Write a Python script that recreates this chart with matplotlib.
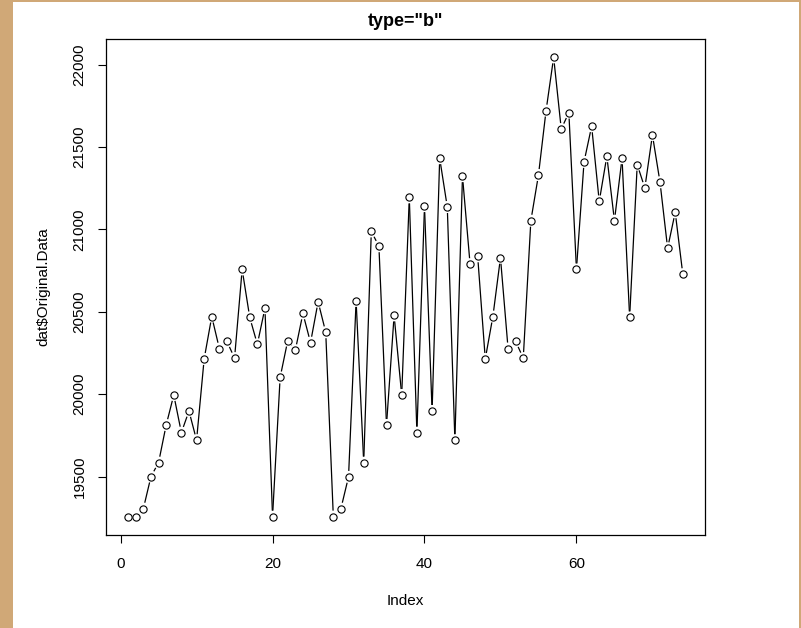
import matplotlib
matplotlib.use("Agg")
from matplotlib import pyplot as plt
from matplotlib.patches import Rectangle
import numpy as np

plt.rcParams['font.family'] = ['Liberation Sans', 'DejaVu Sans']

# dat$Original.Data
values = [19257, 19257, 19306, 19500, 19585, 19813, 19995, 19767, 19898, 19721,
          20214, 20471, 20277, 20320, 20219, 20757, 20466, 20303, 20522, 19257,
          20102, 20325, 20267, 20490, 20313, 20561, 20376, 19257, 19306, 19498,
          20566, 19585, 20988, 20898, 19813, 20478, 19995, 21194, 19767, 21141,
          19898, 21432, 21136, 19721, 21323, 20789, 20837, 20214, 20471, 20828,
          20277, 20320, 20219, 21053, 21330, 21721, 22044, 21609, 21709, 20757,
          21410, 21626, 21170, 21444, 21053, 21432, 20466, 21393, 21252, 21573,
          21286, 20886, 21104, 20728]
index = np.arange(1, len(values) + 1)
y_ticks = [19500, 20000, 20500, 21000, 21500, 22000]
x_ticks = [0, 20, 40, 60]

W, H = 801, 628
fig = plt.figure(figsize=(W / 100, H / 100), dpi=100)
fig.patch.set_facecolor('#D0A877')
fig.patches.append(Rectangle((13 / W, 0), (799 - 13) / W, 1 - 2 / H,
                             transform=fig.transFigure, facecolor='white',
                             edgecolor='none', zorder=-5))

ax = fig.add_axes([106 / W, 1 - 535 / H, (705 - 106) / W, (535 - 39) / H])
ax.set_facecolor('white')

# R style limits: range extended by 4%
x = np.asarray(index, float)
y = np.asarray(values, float)
dx = (x.max() - x.min()) * 0.04
dy = (y.max() - y.min()) * 0.04
ax.set_xlim(x.min() - dx, x.max() + dx)
ax.set_ylim(y.min() - dy, y.max() + dy)

# type="b": segments with a gap around each point
gap = 6.0
pix = ax.transData.transform(np.column_stack([x, y]))
inv = ax.transData.inverted()
for i in range(len(x) - 1):
    p0, p1 = pix[i], pix[i + 1]
    d = np.hypot(*(p1 - p0))
    if d <= 2 * gap:
        continue
    u = (p1 - p0) / d
    a = inv.transform(p0 + u * gap)
    b = inv.transform(p1 - u * gap)
    ax.plot([a[0], b[0]], [a[1], b[1]], color='black', lw=0.9,
            solid_capstyle='butt')

ax.plot(x, y, linestyle='none', marker='o', markersize=5.2,
        markerfacecolor='white', markeredgecolor='black', markeredgewidth=0.8)

ax.set_xticks(x_ticks)
ax.set_yticks(y_ticks)
ax.set_yticklabels([str(v) for v in y_ticks], rotation=90, va='center')
ax.tick_params(axis='both', length=6, width=0.8, labelsize=11, color='black')
ax.tick_params(axis='x', pad=10)
ax.tick_params(axis='y', pad=8)
for s in ax.spines.values():
    s.set_linewidth(0.9)

fig.text(405 / W, 1 - 21 / H, 'type="b"', ha='center', va='center',
         fontsize=13, fontweight='bold')
fig.text(405 / W, 1 - 601 / H, 'Index', ha='center', va='center', fontsize=11)
fig.text(43 / W, 1 - 287 / H, 'dat$Original.Data', ha='center', va='center',
         rotation=90, fontsize=11)

fig.savefig('out.png', dpi=100, facecolor=fig.get_facecolor())
